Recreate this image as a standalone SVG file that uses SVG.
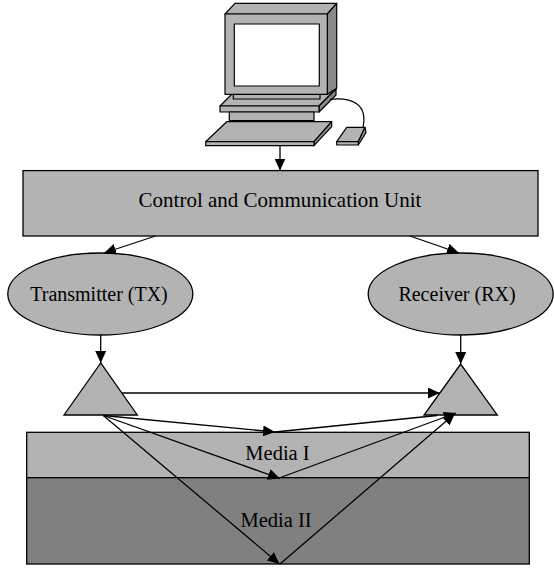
<svg xmlns="http://www.w3.org/2000/svg" width="554" height="568" viewBox="0 0 554 568">
  <style>
    .ln { stroke: #000; stroke-width: 1.3; fill: none; }
    .arr { stroke: #000; stroke-width: 1.3; fill: none; marker-end: url(#head); }
    .shape { fill: #b3b3b3; stroke: #000; stroke-width: 1.3; }
    .pc { stroke: #000; stroke-width: 1.2; stroke-linejoin: round; }
    .face { fill: #b3b3b3; }
    .side { fill: #8a8a8a; }
    .lbl { font-family: "Liberation Serif", "Times New Roman", serif; fill: #000; text-anchor: middle; }
  </style>
  <defs>
    <marker id="head" markerUnits="userSpaceOnUse" markerWidth="12" markerHeight="11" refX="12" refY="5.5" orient="auto">
      <path d="M0,0 L12,5.5 L0,11 z" fill="#000"/>
    </marker>
  </defs>

  <!-- propagation media -->
  <g id="media1">
    <rect x="26.7" y="432.3" width="502.6" height="45.4" class="shape"/>
    <text x="277.5" y="460" class="lbl" font-size="20.5">Media I</text>
  </g>
  <g id="media2">
    <rect x="26.7" y="477.7" width="502.6" height="86.3" fill="#808080" stroke="#000" stroke-width="1.3"/>
    <text x="276" y="526.5" class="lbl" font-size="20.5">Media II</text>
  </g>

  <!-- workstation -->
  <g id="computer">
    <!-- base slab -->
    <polygon class="pc face" points="220,106 237,89 336,89 319,106"/>
    <polygon class="pc side" points="319,106 336,89 336,95 319,112"/>
    <rect class="pc face" x="220" y="106" width="99" height="6"/>
    <!-- neck -->
    <rect class="pc face" x="229.3" y="112" width="84.7" height="8.7"/>
    <!-- monitor foot plate -->
    <rect class="pc face" x="233.3" y="94.5" width="86.7" height="4.5"/>
    <!-- monitor -->
    <polygon class="pc face" points="225,14 235,3.3 336.7,3.3 327.3,14"/>
    <polygon class="pc side" points="327.3,14 336.7,3.3 336.7,88.3 327.3,94.3"/>
    <rect class="pc face" x="225" y="14" width="102.3" height="80.3"/>
    <rect class="pc" fill="#fff" x="234.3" y="24" width="85" height="62"/>
    <!-- keyboard -->
    <polygon class="pc face" points="205.7,141.7 226.7,121.7 331.7,121.7 314,141.7"/>
    <polygon class="pc side" points="314,141.7 331.7,121.7 331.7,126.7 314,145.7"/>
    <rect class="pc face" x="205.7" y="141.7" width="108.3" height="4"/>
    <!-- mouse and cable -->
    <path class="pc" fill="none" d="M330,99.3 C352,97 368,104 363,127.3"/>
    <polygon class="pc face" points="336.7,141.7 346.7,127.3 365,127.3 358.3,141.7"/>
    <polygon class="pc side" points="358.3,141.7 365,127.3 366,132.7 358.3,145"/>
    <rect class="pc face" x="336.7" y="141.7" width="21.6" height="3.3"/>
  </g>

  <g id="ccu">
    <rect x="23" y="170.6" width="515" height="65.4" class="shape"/>
    <text x="280" y="206.7" class="lbl" font-size="21">Control and Communication Unit</text>
  </g>

  <g id="tx">
    <ellipse cx="100.3" cy="294" rx="92.5" ry="41" class="shape"/>
    <text x="99" y="300.5" class="lbl" font-size="20">Transmitter (TX)</text>
  </g>

  <g id="rx">
    <ellipse cx="460.7" cy="294" rx="92.5" ry="41" class="shape"/>
    <text x="457" y="300.5" class="lbl" font-size="20">Receiver (RX)</text>
  </g>

  <g id="tx-antenna">
    <polygon points="100.7,363 64,415 137.3,415" class="shape"/>
  </g>
  <g id="rx-antenna">
    <polygon points="460.7,364 424,415 497.3,415" class="shape"/>
  </g>

  <g id="connectors">
    <line class="arr" x1="280" y1="146" x2="280" y2="170.6"/>
    <line class="arr" x1="155.5" y1="236" x2="104" y2="253"/>
    <line class="arr" x1="410" y1="236" x2="459" y2="253"/>
    <line class="arr" x1="100.7" y1="335" x2="100.7" y2="363"/>
    <line class="arr" x1="460.7" y1="335" x2="460.7" y2="364"/>
    <!-- direct path -->
    <line class="arr" x1="121.6" y1="393" x2="439.8" y2="393"/>
    <!-- reflection at top of Media I -->
    <line class="arr" x1="103.3" y1="415.5" x2="275" y2="432"/>
    <line class="ln" x1="275" y1="432" x2="437" y2="415.5"/>
    <!-- reflection at Media I / Media II boundary -->
    <line class="arr" x1="103.3" y1="415.5" x2="280" y2="478.5"/>
    <line class="arr" x1="280.5" y1="477.5" x2="456" y2="413"/>
    <!-- reflection at bottom of Media II -->
    <line class="arr" x1="103.3" y1="415.5" x2="279.5" y2="564"/>
    <line class="arr" x1="280" y1="564" x2="455" y2="413.5"/>
  </g>
</svg>
